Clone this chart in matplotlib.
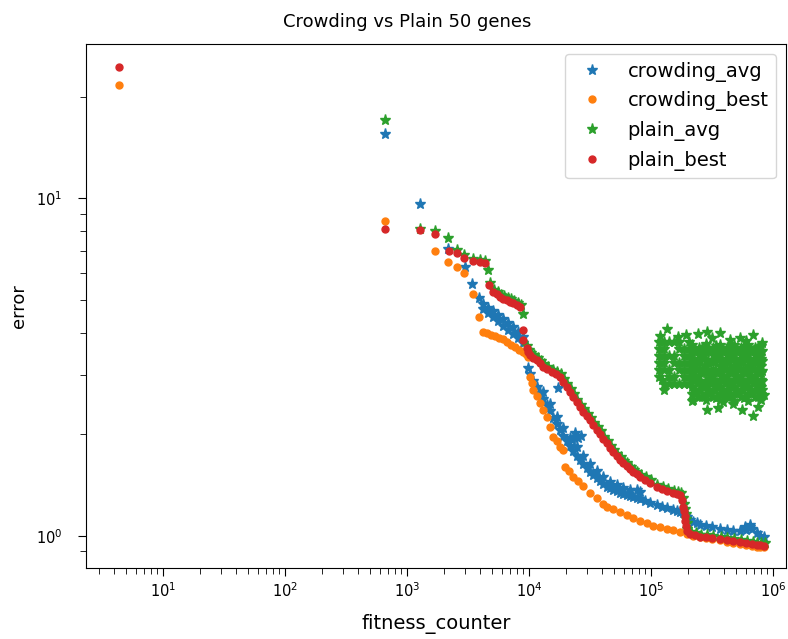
import matplotlib
matplotlib.use("Agg")
import matplotlib.pyplot as plt

# ---------------- data ----------------
crowding_avg = [
    (660, 15.47), (1278, 9.60), (2181, 7.05), (2988, 6.24), (3391, 5.59), (3914, 5.08),
    (4198, 4.86), (4613, 4.73), (5070, 4.63), (5572, 4.51), (6124, 4.385), (6730, 4.27),
    (7396, 4.15), (8128, 4.015), (8929, 3.88),
    (4198, 4.70), (4613, 4.57), (5070, 4.445), (5572, 4.33), (6124, 4.18), (6730, 4.07),
    (7396, 3.96), (8128, 3.85), (8929, 3.72),
    (9812, 3.141), (10190, 3.016), (10790, 2.874), (11565, 2.760), (12310, 2.649),
    (13100, 2.543), (13960, 2.441), (14860, 2.344), (15820, 2.234), (16870, 2.145),
    (17960, 2.059), (19100, 1.976), (20370, 1.910), (21690, 1.846), (23080, 1.784),
    (24600, 1.725), (26180, 1.679), (27870, 1.633), (29720, 1.589), (31620, 1.547),
    (33650, 1.515), (35890, 1.484), (38190, 1.455), (40640, 1.425), (43350, 1.399),
    (46120, 1.387), (49090, 1.368), (52350, 1.359), (55720, 1.340), (59290, 1.331),
    (63220, 1.322), (67300, 1.313), (71600, 1.304), (76340, 1.296), (81240, 1.287),
    (89280, 1.269), (98130, 1.252), (111350, 1.235), (123100, 1.218), (135250, 1.210),
    (152330, 1.194), (163380, 1.186), (172900, 1.178), (184040, 1.167), (196200, 1.138),
    (208800, 1.115), (221000, 1.100), (237100, 1.090), (252100, 1.081), (282300, 1.071),
    (316200, 1.060), (367900, 1.049), (417400, 1.042), (470000, 1.038), (536500, 1.035),
    (589500, 1.056), (600800, 1.042), (648100, 1.063), (672900, 1.049), (735300, 1.021),
    (782500, 1.000), (843900, 0.993),
    (13100, 2.667), (14860, 2.458), (16870, 2.249), (19100, 2.087), (21690, 1.950),
    (24600, 1.834), (27870, 1.725), (31620, 1.633), (35890, 1.557), (40640, 1.495),
    (46120, 1.445), (52350, 1.415), (59290, 1.387), (67300, 1.368), (76340, 1.368),
    (81240, 1.349),
    (23820, 2.017), (25210, 1.950), (26690, 1.976), (22510, 1.923), (17290, 2.741),
    (648100, 1.078), (589500, 1.063),
]

crowding_best = [
    (4.36, 21.60), (660, 8.55), (1696, 6.99), (2181, 6.48), (2555, 6.26), (2931, 5.99),
    (3456, 5.22), (3914, 4.44), (4222, 4.02), (4527, 3.987), (4882, 3.946), (5264, 3.906),
    (5677, 3.867), (6124, 3.827), (6601, 3.762), (7122, 3.686), (7680, 3.624),
    (8279, 3.562), (8929, 3.515), (9450, 3.455), (9870, 3.392),
    (10190, 2.961), (10580, 2.836), (10840, 2.704), (11565, 2.596), (12310, 2.470),
    (13100, 2.359), (13960, 2.254), (14860, 2.100), (15820, 1.967), (16870, 1.910),
    (17960, 1.837), (19100, 1.797),
    (19720, 1.603), (21280, 1.557), (23080, 1.498), (25210, 1.455), (27870, 1.406),
    (31620, 1.338), (35890, 1.296), (40640, 1.243), (43350, 1.221), (49090, 1.202),
    (55720, 1.178), (63220, 1.154), (71600, 1.130), (81240, 1.108), (92210, 1.090),
    (103850, 1.074), (118500, 1.063), (135250, 1.052), (152330, 1.042), (172900, 1.028),
    (196200, 1.014), (221000, 1.003), (252100, 0.995), (282300, 0.986), (316200, 0.980),
    (367900, 0.970), (417400, 0.962), (470000, 0.953), (536500, 0.947), (600800, 0.941),
    (672900, 0.934), (735300, 0.930), (782500, 0.928), (843900, 0.928),
]

plain_avg = [
    (660, 17.01), (1278, 8.08), (1696, 8.00), (2181, 7.60), (2584, 7.02), (2931, 6.78),
    (3456, 6.62), (3966, 6.58), (4358, 6.51), (4638, 6.12),
    (4800, 5.62), (5180, 5.36), (5530, 5.28), (5880, 5.18), (6230, 5.12), (6680, 5.07),
    (7110, 5.02), (7560, 4.96), (8070, 4.90), (8580, 4.84), (8880, 4.54),
    (9740, 3.66), (9980, 3.56), (10370, 3.49), (10980, 3.43), (11770, 3.37), (12520, 3.30),
    (13330, 3.22), (14290, 3.17), (15620, 3.11), (16940, 3.06), (18270, 3.01),
    (19430, 2.91), (20720, 2.81), (22060, 2.72), (23480, 2.63), (25020, 2.53),
    (26630, 2.45), (28350, 2.37), (30230, 2.30), (32160, 2.24), (34230, 2.16),
    (36510, 2.10), (38850, 2.04), (41340, 1.97), (44100, 1.91), (46910, 1.85),
    (49930, 1.80), (53250, 1.75), (56680, 1.71), (60310, 1.67), (64310, 1.64),
    (68460, 1.60), (72830, 1.57), (77650, 1.545), (82640, 1.52), (90820, 1.49),
    (99820, 1.46), (113270, 1.42), (125220, 1.40), (137580, 1.38), (154950, 1.36),
    (166200, 1.35), (175880, 1.345), (182660, 1.30), (187210, 1.24), (189710, 1.205),
    (193270, 1.165), (195100, 1.125), (196930, 1.09), (199580, 1.05), (212400, 1.03),
    (233450, 1.02), (256440, 1.01), (287160, 1.005), (321650, 1.00), (374230, 0.995),
    (424590, 0.988), (478100, 0.981), (545740, 0.975), (611150, 0.967), (684490, 0.961),
    (747970, 0.955), (795980, 0.955), (858440, 0.951),
]

plain_avg_cloud = [
    # upper edge
    (135250, 4.10), (242800, 3.96), (287700, 4.01), (367900, 3.99), (536500, 3.85),
    (685600, 3.93), (316200, 3.85), (444100, 3.80), (600800, 3.77), (812400, 3.72),
    (193600, 3.94), (166500, 3.89), (118500, 3.91),
    # main block
    (216900, 3.674), (216900, 3.503), (216900, 3.341), (216900, 3.184), (216900, 3.035),
    (216900, 2.893), (216900, 2.760), (216900, 2.631), (216900, 2.508),
    (247500, 3.600), (247500, 3.432), (247500, 3.272), (247500, 3.120), (247500, 2.975),
    (247500, 2.836), (247500, 2.704), (247500, 2.578),
    (282300, 3.690), (282300, 3.510), (282300, 3.330), (282300, 3.190), (282300, 3.040),
    (282300, 2.880), (282300, 2.760), (282300, 2.640), (282300, 2.520),
    (322200, 3.610), (322200, 3.440), (322200, 3.270), (322200, 3.110), (322200, 2.970),
    (322200, 2.840), (322200, 2.710), (322200, 2.580),
    (367900, 3.674), (367900, 3.503), (367900, 3.341), (367900, 3.184), (367900, 3.035),
    (367900, 2.893), (367900, 2.760), (367900, 2.631), (367900, 2.530),
    (419800, 3.600), (419800, 3.432), (419800, 3.272), (419800, 3.120), (419800, 2.975),
    (419800, 2.836), (419800, 2.704), (419800, 2.578),
    (479000, 3.680), (479000, 3.500), (479000, 3.340), (479000, 3.180), (479000, 3.040),
    (479000, 2.890), (479000, 2.760), (479000, 2.630), (479000, 2.510),
    (546500, 3.600), (546500, 3.432), (546500, 3.272), (546500, 3.120), (546500, 2.975),
    (546500, 2.836), (546500, 2.704), (546500, 2.578),
    (624000, 3.674), (624000, 3.503), (624000, 3.341), (624000, 3.184), (624000, 3.035),
    (624000, 2.893), (624000, 2.760), (624000, 2.631), (624000, 2.508),
    (712000, 3.600), (712000, 3.432), (712000, 3.272), (712000, 3.120), (712000, 2.975),
    (712000, 2.836), (712000, 2.704), (712000, 2.578),
    (797000, 3.660), (797000, 3.500), (797000, 3.341), (797000, 3.184), (797000, 3.035),
    (797000, 2.893), (797000, 2.760), (797000, 2.631), (797000, 2.520),
    # in-between fill
    (232000, 3.560), (232000, 3.230), (232000, 2.930), (232000, 2.680),
    (264000, 3.600), (264000, 3.380), (264000, 3.100), (264000, 2.800), (264000, 2.580),
    (301000, 3.560), (301000, 3.240), (301000, 2.920), (301000, 2.660),
    (344000, 3.650), (344000, 3.380), (344000, 3.060), (344000, 2.780), (344000, 2.560),
    (393000, 3.560), (393000, 3.230), (393000, 2.950), (393000, 2.670),
    (449000, 3.640), (449000, 3.370), (449000, 3.070), (449000, 2.800), (449000, 2.600),
    (512000, 3.560), (512000, 3.240), (512000, 2.930), (512000, 2.680),
    (584000, 3.640), (584000, 3.360), (584000, 3.060), (584000, 2.790), (584000, 2.560),
    (667000, 3.560), (667000, 3.230), (667000, 2.940), (667000, 2.680),
    (757000, 3.620), (757000, 3.370), (757000, 3.080), (757000, 2.800), (757000, 2.580),
    (225000, 3.520), (225000, 3.300), (225000, 3.080), (225000, 2.870), (225000, 2.700),
    (255000, 3.520), (255000, 3.300), (255000, 3.080), (255000, 2.870), (255000, 2.700),
    (292000, 3.520), (292000, 3.300), (292000, 3.080), (292000, 2.870), (292000, 2.700),
    (333000, 3.520), (333000, 3.300), (333000, 3.080), (333000, 2.870), (333000, 2.700),
    (380000, 3.520), (380000, 3.300), (380000, 3.080), (380000, 2.870), (380000, 2.700),
    (434000, 3.520), (434000, 3.300), (434000, 3.080), (434000, 2.870), (434000, 2.700),
    (495000, 3.520), (495000, 3.300), (495000, 3.080), (495000, 2.870), (495000, 2.700),
    (565000, 3.520), (565000, 3.300), (565000, 3.080), (565000, 2.870), (565000, 2.700),
    (645000, 3.520), (645000, 3.300), (645000, 3.080), (645000, 2.870), (645000, 2.700),
    (735000, 3.520), (735000, 3.300), (735000, 3.080), (735000, 2.870), (735000, 2.700),
    (820000, 3.520), (820000, 3.300), (820000, 3.080), (820000, 2.870), (820000, 2.700),
    # left section
    (116300, 3.750), (116300, 3.575), (116300, 3.409), (116300, 3.250), (116300, 3.100),
    (116300, 2.954), (127900, 3.750), (127900, 3.575), (127900, 3.409), (127900, 3.250),
    (127900, 3.100), (127900, 2.818), (140500, 3.750), (140500, 3.409), (140500, 3.100),
    (140500, 2.954), (140500, 2.818), (154300, 3.750), (154300, 3.409), (154300, 3.250),
    (154300, 2.954), (154300, 2.818), (169600, 3.750), (169600, 3.575), (169600, 3.250),
    (169600, 3.100), (169600, 2.818), (186400, 3.575), (186400, 3.409), (186400, 3.250),
    (186400, 3.100), (186400, 2.954), (186400, 2.818), (204800, 3.750), (204800, 3.575),
    (204800, 3.409), (204800, 3.250), (204800, 3.100), (204800, 2.954), (204800, 2.818),
    # lower edge / outliers
    (221000, 2.526), (287700, 2.359), (354200, 2.391), (389300, 2.491), (470000, 2.458),
    (557000, 2.359), (685600, 2.265), (753400, 2.408), (123100, 2.893), (843900, 2.614),
    (127900, 2.704),
]

plain_best = [
    (4.36, 24.41), (660, 8.08), (1278, 8.06), (1696, 7.86), (2222, 6.97), (2584, 6.86),
    (2931, 6.63), (3456, 6.52), (3966, 6.48), (4358, 6.41), (4726, 5.53), (5097, 5.28),
    (5436, 5.20), (5786, 5.105), (6122, 5.04), (6565, 4.99), (6989, 4.94), (7433, 4.88),
    (7932, 4.83), (8437, 4.77), (8880, 4.07), (8880, 3.80), (9575, 3.600), (9812, 3.503),
    (10190, 3.432), (10790, 3.374), (11565, 3.317), (12310, 3.250), (13100, 3.168),
    (14050, 3.120), (15350, 3.063), (16650, 3.016), (17960, 2.961), (19100, 2.861),
    (20370, 2.765), (21690, 2.676), (23080, 2.584), (24600, 2.491), (26180, 2.408),
    (27870, 2.328), (29720, 2.265), (31620, 2.204), (33650, 2.130), (35890, 2.066),
    (38190, 2.003), (40640, 1.936), (43350, 1.881), (46120, 1.822), (49090, 1.772),
    (52350, 1.725), (55720, 1.679), (59290, 1.641), (63220, 1.611), (67300, 1.578),
    (71600, 1.547), (76340, 1.521), (81240, 1.498), (89280, 1.465), (98130, 1.435),
    (111350, 1.399), (123100, 1.377), (135250, 1.359), (152330, 1.338), (163380, 1.331),
    (172900, 1.322), (179570, 1.278), (184040, 1.221), (186500, 1.186), (190000, 1.146),
    (191800, 1.108), (193600, 1.071), (196200, 1.035), (208800, 1.014), (229500, 1.007),
    (252100, 0.995), (282300, 0.990), (316200, 0.986), (367900, 0.980), (417400, 0.973),
    (470000, 0.967), (536500, 0.960), (600800, 0.953), (672900, 0.947), (735300, 0.941),
    (782500, 0.941), (843900, 0.937),
]

series_labels = ["crowding_avg", "crowding_best", "plain_avg", "plain_best"]
title = "Crowding vs Plain 50 genes"
x_label = "fitness_counter"
y_label = "error"

# ---------------- plotting ----------------
fig = plt.figure(figsize=(7.88, 6.39), dpi=100)
ax = fig.add_axes([0.1091, 0.1111, 0.8883, 0.8200])

def xy(pairs):
    return [p[0] for p in pairs], [p[1] for p in pairs]

star_ms = 8
dot_ms = 10
cx, cy = xy(crowding_avg)
ax.plot(cx, cy, linestyle="none", marker="*", markersize=star_ms, color="C0", label=series_labels[0])
bx, by = xy(crowding_best)
ax.plot(bx, by, linestyle="none", marker=".", markersize=dot_ms, color="C1", label=series_labels[1])
px_, py_ = xy(plain_avg + plain_avg_cloud)
ax.plot(px_, py_, linestyle="none", marker="*", markersize=star_ms, color="C2", label=series_labels[2])
qx, qy = xy(plain_best)
ax.plot(qx, qy, linestyle="none", marker=".", markersize=dot_ms, color="C3", label=series_labels[3])

ax.set_xscale("log")
ax.set_yscale("log")
ax.set_xlim(2.34, 1.28e6)
ax.set_ylim(0.804, 28.6)
ax.set_title(title, fontsize=13, x=0.4586, pad=12)
ax.set_xlabel(x_label, fontsize=14, labelpad=10)
ax.set_ylabel(y_label, fontsize=13, labelpad=6)
ax.tick_params(which="major", length=6, labelsize=10.5)
ax.tick_params(which="minor", length=4)
ax.tick_params(axis="y", which="both", pad=11)
ax.legend(loc="upper right", fontsize=14)

fig.savefig("out.png", dpi=100)
